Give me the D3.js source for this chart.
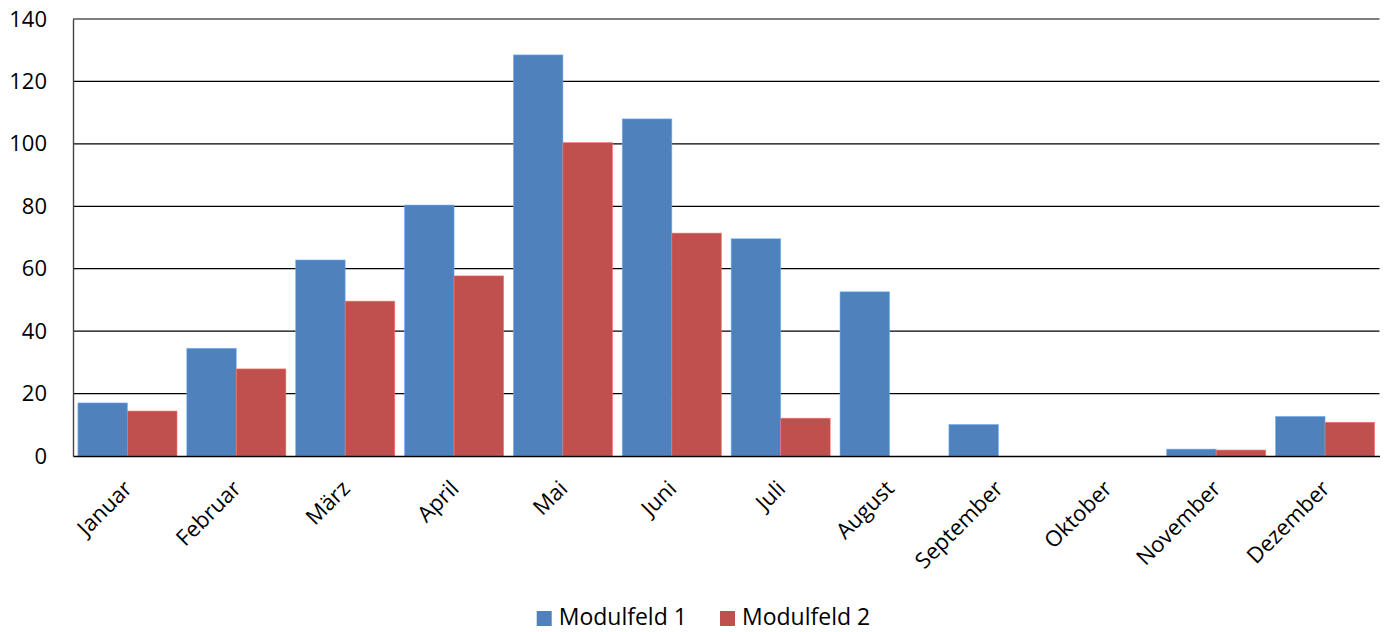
<!DOCTYPE html>
<html>
<head>
<meta charset="utf-8">
<script src="https://cdn.jsdelivr.net/npm/d3@7"></script>
<style>
  body { margin: 0; background: #fff; }
  text { font-family: "Open Sans", sans-serif; fill: #000; }
</style>
</head>
<body>
<div id="chart"></div>
<script>
const months = ["Januar", "Februar", "März", "April", "Mai", "Juni", "Juli",
                "August", "September", "Oktober", "November", "Dezember"];
const seriesNames = ["Modulfeld 1", "Modulfeld 2"];
const modulfeld1 = [17.0, 34.5, 62.8, 80.4, 128.5, 108.0, 69.6, 52.6, 10.1, 0, 2.2, 12.7];
const modulfeld2 = [14.4, 27.9, 49.6, 57.7, 100.4, 71.4, 12.1, 0, 0, 0, 1.9, 10.8];
const yTicks = [0, 20, 40, 60, 80, 100, 120, 140];
const colors = ["#4F81BD", "#C0504D"];

(function(){
const W = 1385, H = 632;
const margin = { top: 19, right: 5.5, bottom: 176, left: 73 };
const width = W - margin.left - margin.right;
const height = H - margin.top - margin.bottom;

const svg = d3.select("#chart")
    .append("svg")
    .attr("width", W)
    .attr("height", H)
    .append("g")
    .attr("transform", `translate(${margin.left},${margin.top})`);

// Scales
const x0 = d3.scaleBand()
    .domain(months)
    .range([0, width])
    .paddingInner(0.09)
    .paddingOuter(0.045);

const x1 = d3.scaleBand()
    .domain(seriesNames)
    .range([0, x0.bandwidth()]);

const y = d3.scaleLinear()
    .domain([0, 140])
    .range([height, 0]);

// Gridlines
svg.append("g")
    .selectAll("line")
    .data(yTicks.filter(d => d > 0))
    .enter()
    .append("line")
    .attr("x1", 0)
    .attr("x2", width)
    .attr("y1", d => y(d))
    .attr("y2", d => y(d))
    .attr("stroke", "#000")
    .attr("stroke-width", 1.2);

// Y axis labels
const yAxis = svg.append("g")
    .call(d3.axisLeft(y).tickValues(yTicks).tickSize(0).tickPadding(26));
yAxis.select(".domain").attr("stroke", "#444").attr("stroke-width", 1.4);
yAxis.selectAll("text")
    .style("font-size", "22px")
    .style("font-family", "'Open Sans', sans-serif");

// Bars
const rows = months.map((m, i) => ({ month: m, values: [modulfeld1[i], modulfeld2[i]] }));

svg.selectAll(".group")
    .data(rows)
    .enter()
    .append("g")
    .attr("class", "group")
    .attr("transform", d => `translate(${x0(d.month)},0)`)
    .selectAll("rect")
    .data(d => d.values.map((v, k) => ({ name: seriesNames[k], value: v, k: k })))
    .enter()
    .append("rect")
    .attr("x", d => x1(d.name))
    .attr("width", x1.bandwidth())
    .attr("y", d => y(d.value))
    .attr("height", d => height - y(d.value))
    .attr("fill", d => colors[d.k])
    .attr("stroke", d => d3.rgb(colors[d.k]).brighter(0.9))
    .attr("stroke-width", 0.8)
    .attr("stroke-opacity", 0.7)
    .attr("display", d => d.value > 0 ? null : "none");

// X axis
const xAxis = svg.append("g")
    .attr("transform", `translate(0,${height})`)
    .call(d3.axisBottom(x0).tickSize(0).tickPadding(0));
xAxis.select(".domain").attr("stroke", "#000").attr("stroke-width", 1.4);
xAxis.selectAll("text")
    .style("font-size", "22px")
    .style("font-family", "'Open Sans', sans-serif")
    .attr("text-anchor", "end")
    .attr("dy", 0)
    .attr("y", 0)
    .attr("transform", "translate(6,34) rotate(-45)");

// Legend (kept just above the bottom edge so the text is not clipped)
const legend = svg.append("g")
    .attr("transform", `translate(${536.7 - margin.left},${611 - margin.top})`);
const legendX = [0, 183.3];
seriesNames.forEach((name, k) => {
    const g = legend.append("g").attr("transform", `translate(${legendX[k]},0)`);
    g.append("rect")
        .attr("width", 15)
        .attr("height", 15)
        .attr("fill", colors[k]);
    g.append("text")
        .attr("x", 22)
        .attr("y", 14)
        .style("font-size", "23px")
        .text(name);
});
})();
</script>
</body>
</html>
